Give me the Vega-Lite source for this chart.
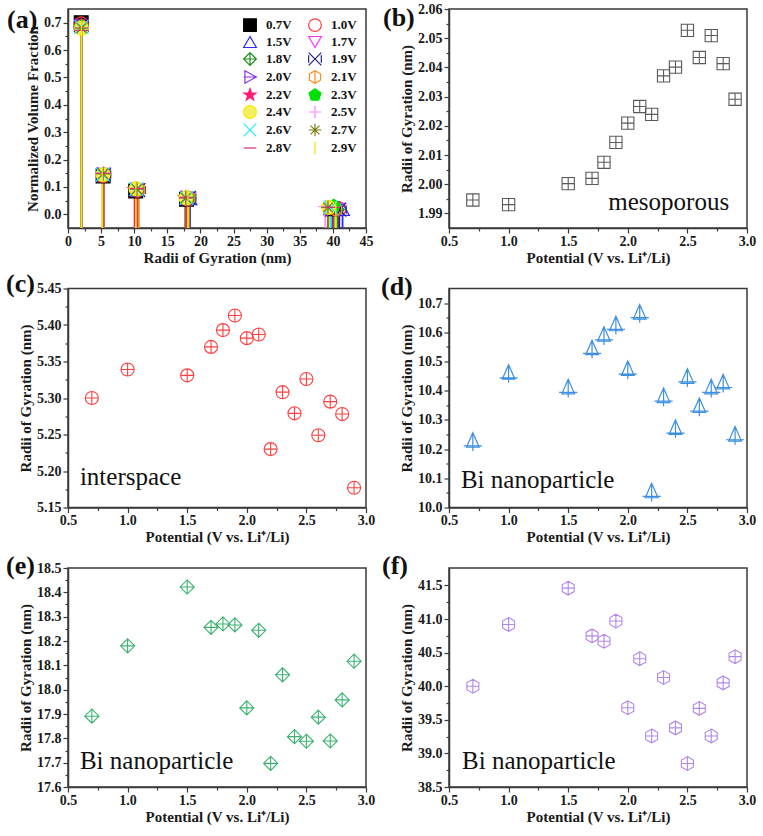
{
  "$schema": "https://vega.github.io/schema/vega-lite/v6.json",
  "padding": {"left": 5, "top": 1, "right": 5, "bottom": 5},
  "background": "white",
  "config": {
    "font": "Liberation Serif",
    "view": {"stroke": "#3a3a3a", "strokeWidth": 1.5},
    "axis": {
      "labelFont": "Liberation Serif", "labelFontWeight": "bold", "labelFontSize": 14, "labelColor": "#1a1a1a",
      "titleFont": "Liberation Serif", "titleFontWeight": "bold", "titleFontSize": 15, "titleColor": "#1a1a1a",
      "domainColor": "#3a3a3a", "domainWidth": 1.5, "tickColor": "#3a3a3a", "tickWidth": 1.2, "tickSize": 5,
      "grid": false, "labelOverlap": false, "labelFlush": false, "labelPadding": 2
    },
    "axisX": {"titlePadding": 2, "labelPadding": 1},
    "axisY": {"titlePadding": 3},
    "title": {"font": "Liberation Serif", "fontSize": 26, "fontWeight": "bold", "anchor": "start", "frame": "group", "baseline": "alphabetic", "offset": 0, "color": "#111111"},
    "legend": {
      "columnPadding": 14, "rowPadding": 0,
      "symbolSize": 160, "symbolStrokeWidth": 1.2, "labelFont": "Liberation Serif", "labelFontWeight": "bold",
      "labelFontSize": 13, "labelColor": "#111111", "labelOffset": 9, "padding": 0
    }
  },
  "datasets": {
    "rg": [
      {"voltage":"0.7V","potential":0.7,"population":"mesoporous","rg":1.9946,"fraction":0.700},
      {"voltage":"0.7V","potential":0.7,"population":"interspace","rg":5.300,"fraction":0.140},
      {"voltage":"0.7V","potential":0.7,"population":"Bi1","rg":10.225,"fraction":0.085},
      {"voltage":"0.7V","potential":0.7,"population":"Bi2","rg":17.891,"fraction":0.055},
      {"voltage":"0.7V","potential":0.7,"population":"Bi3","rg":40.00,"fraction":0.020},
      {"voltage":"1.0V","potential":1.0,"population":"mesoporous","rg":1.9930,"fraction":0.696},
      {"voltage":"1.0V","potential":1.0,"population":"interspace","rg":5.339,"fraction":0.142},
      {"voltage":"1.0V","potential":1.0,"population":"Bi1","rg":10.458,"fraction":0.088},
      {"voltage":"1.0V","potential":1.0,"population":"Bi2","rg":18.180,"fraction":0.055},
      {"voltage":"1.0V","potential":1.0,"population":"Bi3","rg":40.92,"fraction":0.019},
      {"voltage":"1.5V","potential":1.5,"population":"mesoporous","rg":2.0002,"fraction":0.690},
      {"voltage":"1.5V","potential":1.5,"population":"interspace","rg":5.331,"fraction":0.145},
      {"voltage":"1.5V","potential":1.5,"population":"Bi1","rg":10.408,"fraction":0.090},
      {"voltage":"1.5V","potential":1.5,"population":"Bi2","rg":18.422,"fraction":0.057},
      {"voltage":"1.5V","potential":1.5,"population":"Bi3","rg":41.46,"fraction":0.018},
      {"voltage":"1.7V","potential":1.7,"population":"mesoporous","rg":2.0020,"fraction":0.688},
      {"voltage":"1.7V","potential":1.7,"population":"interspace","rg":5.370,"fraction":0.146},
      {"voltage":"1.7V","potential":1.7,"population":"Bi1","rg":10.542,"fraction":0.090},
      {"voltage":"1.7V","potential":1.7,"population":"Bi2","rg":18.256,"fraction":0.058},
      {"voltage":"1.7V","potential":1.7,"population":"Bi3","rg":40.75,"fraction":0.018},
      {"voltage":"1.8V","potential":1.8,"population":"mesoporous","rg":2.0075,"fraction":0.686},
      {"voltage":"1.8V","potential":1.8,"population":"interspace","rg":5.393,"fraction":0.147},
      {"voltage":"1.8V","potential":1.8,"population":"Bi1","rg":10.588,"fraction":0.091},
      {"voltage":"1.8V","potential":1.8,"population":"Bi2","rg":18.270,"fraction":0.058},
      {"voltage":"1.8V","potential":1.8,"population":"Bi3","rg":40.67,"fraction":0.018},
      {"voltage":"1.9V","potential":1.9,"population":"mesoporous","rg":2.0143,"fraction":0.690},
      {"voltage":"1.9V","potential":1.9,"population":"interspace","rg":5.413,"fraction":0.145},
      {"voltage":"1.9V","potential":1.9,"population":"Bi1","rg":10.624,"fraction":0.088},
      {"voltage":"1.9V","potential":1.9,"population":"Bi2","rg":18.266,"fraction":0.060},
      {"voltage":"1.9V","potential":1.9,"population":"Bi3","rg":40.97,"fraction":0.017},
      {"voltage":"2.0V","potential":2.0,"population":"mesoporous","rg":2.0209,"fraction":0.688},
      {"voltage":"2.0V","potential":2.0,"population":"interspace","rg":5.382,"fraction":0.144},
      {"voltage":"2.0V","potential":2.0,"population":"Bi1","rg":10.471,"fraction":0.090},
      {"voltage":"2.0V","potential":2.0,"population":"Bi2","rg":17.925,"fraction":0.060},
      {"voltage":"2.0V","potential":2.0,"population":"Bi3","rg":39.68,"fraction":0.018},
      {"voltage":"2.1V","potential":2.1,"population":"mesoporous","rg":2.0266,"fraction":0.687},
      {"voltage":"2.1V","potential":2.1,"population":"interspace","rg":5.387,"fraction":0.146},
      {"voltage":"2.1V","potential":2.1,"population":"Bi1","rg":10.664,"fraction":0.090},
      {"voltage":"2.1V","potential":2.1,"population":"Bi2","rg":18.244,"fraction":0.059},
      {"voltage":"2.1V","potential":2.1,"population":"Bi3","rg":40.41,"fraction":0.018},
      {"voltage":"2.2V","potential":2.2,"population":"mesoporous","rg":2.0239,"fraction":0.690},
      {"voltage":"2.2V","potential":2.2,"population":"interspace","rg":5.230,"fraction":0.140},
      {"voltage":"2.2V","potential":2.2,"population":"Bi1","rg":10.052,"fraction":0.090},
      {"voltage":"2.2V","potential":2.2,"population":"Bi2","rg":17.697,"fraction":0.060},
      {"voltage":"2.2V","potential":2.2,"population":"Bi3","rg":39.26,"fraction":0.020},
      {"voltage":"2.3V","potential":2.3,"population":"mesoporous","rg":2.0371,"fraction":0.685},
      {"voltage":"2.3V","potential":2.3,"population":"interspace","rg":5.308,"fraction":0.143},
      {"voltage":"2.3V","potential":2.3,"population":"Bi1","rg":10.378,"fraction":0.092},
      {"voltage":"2.3V","potential":2.3,"population":"Bi2","rg":18.061,"fraction":0.060},
      {"voltage":"2.3V","potential":2.3,"population":"Bi3","rg":40.13,"fraction":0.030},
      {"voltage":"2.4V","potential":2.4,"population":"mesoporous","rg":2.0401,"fraction":0.680},
      {"voltage":"2.4V","potential":2.4,"population":"interspace","rg":5.279,"fraction":0.145},
      {"voltage":"2.4V","potential":2.4,"population":"Bi1","rg":10.269,"fraction":0.093},
      {"voltage":"2.4V","potential":2.4,"population":"Bi2","rg":17.807,"fraction":0.060},
      {"voltage":"2.4V","potential":2.4,"population":"Bi3","rg":39.38,"fraction":0.025},
      {"voltage":"2.5V","potential":2.5,"population":"mesoporous","rg":2.0527,"fraction":0.682},
      {"voltage":"2.5V","potential":2.5,"population":"interspace","rg":5.326,"fraction":0.150},
      {"voltage":"2.5V","potential":2.5,"population":"Bi1","rg":10.444,"fraction":0.090},
      {"voltage":"2.5V","potential":2.5,"population":"Bi2","rg":17.788,"fraction":0.058},
      {"voltage":"2.5V","potential":2.5,"population":"Bi3","rg":38.85,"fraction":0.028},
      {"voltage":"2.6V","potential":2.6,"population":"mesoporous","rg":2.0434,"fraction":0.684},
      {"voltage":"2.6V","potential":2.6,"population":"interspace","rg":5.249,"fraction":0.145},
      {"voltage":"2.6V","potential":2.6,"population":"Bi1","rg":10.344,"fraction":0.092},
      {"voltage":"2.6V","potential":2.6,"population":"Bi2","rg":17.887,"fraction":0.060},
      {"voltage":"2.6V","potential":2.6,"population":"Bi3","rg":39.67,"fraction":0.025},
      {"voltage":"2.7V","potential":2.7,"population":"mesoporous","rg":2.0509,"fraction":0.680},
      {"voltage":"2.7V","potential":2.7,"population":"interspace","rg":5.295,"fraction":0.148},
      {"voltage":"2.7V","potential":2.7,"population":"Bi1","rg":10.408,"fraction":0.092},
      {"voltage":"2.7V","potential":2.7,"population":"Bi2","rg":17.789,"fraction":0.060},
      {"voltage":"2.7V","potential":2.7,"population":"Bi3","rg":39.26,"fraction":0.025},
      {"voltage":"2.8V","potential":2.8,"population":"mesoporous","rg":2.0413,"fraction":0.672},
      {"voltage":"2.8V","potential":2.8,"population":"interspace","rg":5.278,"fraction":0.150},
      {"voltage":"2.8V","potential":2.8,"population":"Bi1","rg":10.425,"fraction":0.095},
      {"voltage":"2.8V","potential":2.8,"population":"Bi2","rg":17.958,"fraction":0.062},
      {"voltage":"2.8V","potential":2.8,"population":"Bi3","rg":40.05,"fraction":0.025},
      {"voltage":"2.9V","potential":2.9,"population":"mesoporous","rg":2.0291,"fraction":0.680},
      {"voltage":"2.9V","potential":2.9,"population":"interspace","rg":5.177,"fraction":0.148},
      {"voltage":"2.9V","potential":2.9,"population":"Bi1","rg":10.246,"fraction":0.094},
      {"voltage":"2.9V","potential":2.9,"population":"Bi2","rg":18.117,"fraction":0.060},
      {"voltage":"2.9V","potential":2.9,"population":"Bi3","rg":40.44,"fraction":0.022}
    ]
  },
  "columns": 2,
  "spacing": {"row": 60.5, "column": 83},
  "bounds": "flush",
  "concat": [
    {
      "width": 298, "height": 219,
      "title": {"text": "(a)", "dx": -61, "dy": 28},
      "data": {"name": "rg"},
      "layer": [
        {
          "mark": {"type": "rule", "strokeWidth": 1.8},
          "encoding": {
            "x": {"field": "rg", "type": "quantitative", "title": "Radii of Gyration (nm)",
              "scale": {"domain": [0, 45], "nice": false, "zero": false},
              "axis": {"labelOverlap": false, "tickCount": 100, "values": [0,2.5,5,7.5,10,12.5,15,17.5,20,22.5,25,27.5,30,32.5,35,37.5,40,42.5,45],
                "labelExpr": "abs(datum.value/5-round(datum.value/5))<0.001 ? format(datum.value,'d') : ''",
                "tickDash": {"condition": {"test": "abs(datum.value/5-round(datum.value/5))<0.001", "value": [6, 0]}, "value": [3, 20]}}},
            "y": {"field": "fraction", "type": "quantitative", "title": "Normalized Volume Fraction",
              "scale": {"domain": [-0.05, 0.75], "nice": false, "zero": false},
              "axis": {"labelOverlap": false, "tickCount": 100, "values": [0,0.05,0.1,0.15,0.2,0.25,0.3,0.35,0.4,0.45,0.5,0.55,0.6,0.65,0.7],
                "labelExpr": "abs(datum.value*10-round(datum.value*10))<0.001 ? format(datum.value,'.1f') : ''",
                "tickDash": {"condition": {"test": "abs(datum.value*10-round(datum.value*10))<0.001", "value": [6, 0]}, "value": [3, 20]}}},
            "y2": {"datum": -0.05},
            "color": {"field": "voltage", "type": "nominal", "title": null, "legend": null,
              "scale": {"range": ["#000000","#ff3b3b","#2b2bff","#ff33ff","#1f8f1f","#22227f","#8833ee","#ff8c1a","#ff1a75","#00e000","#f0ea00","#ff88ff","#22e8ff","#7a7a10","#cc3377","#f2e600"]}}
          }
        },
        {
          "mark": {"type": "point", "size": 190, "strokeWidth": 1.2, "opacity": 1},
          "encoding": {
            "x": {"field": "rg", "type": "quantitative"},
            "y": {"field": "fraction", "type": "quantitative"},
            "stroke": {"field": "voltage", "type": "nominal", "title": null,
              "legend": {"orient": "none", "legendX": 175, "legendY": 9, "direction": "horizontal", "columns": 2},
              "scale": {"domain": ["0.7V","1.0V","1.5V","1.7V","1.8V","1.9V","2.0V","2.1V","2.2V","2.3V","2.4V","2.5V","2.6V","2.7V","2.8V","2.9V"],
                "range": ["#000000","#ff3b3b","#2b2bff","#ff33ff","#1f8f1f","#22227f","#8833ee","#ff8c1a","#ff1a75","#00e000","#f0ea00","#ff88ff","#22e8ff","#7a7a10","#cc3377","#f2e600"]}},
            "fill": {"field": "voltage", "type": "nominal", "title": null,
              "legend": {"orient": "none", "legendX": 175, "legendY": 9, "direction": "horizontal", "columns": 2},
              "scale": {"domain": ["0.7V","1.0V","1.5V","1.7V","1.8V","1.9V","2.0V","2.1V","2.2V","2.3V","2.4V","2.5V","2.6V","2.7V","2.8V","2.9V"],
                "range": ["#000000","transparent","transparent","transparent","transparent","transparent","transparent","transparent","#ff1a75","#00e000","#f5f060","transparent","transparent","transparent","transparent","transparent"]}},
            "shape": {"field": "voltage", "type": "nominal", "title": null,
              "legend": {"orient": "none", "legendX": 175, "legendY": 9, "direction": "horizontal", "columns": 2},
              "scale": {"domain": ["0.7V","1.0V","1.5V","1.7V","1.8V","1.9V","2.0V","2.1V","2.2V","2.3V","2.4V","2.5V","2.6V","2.7V","2.8V","2.9V"],
                "range": ["square","circle","triangle-up","triangle-down",
                  "M0,-1L1,0L0,1L-1,0Z M0,-1L0,1 M-1,0L1,0",
                  "M-1,-1L1,1 M-1,1L1,-1 M-1,-0.6L-1,0.6 M1,-0.6L1,0.6",
                  "M-0.8,-1L1,0L-0.8,1Z M-1,0L1,0",
                  "M0,-1L0.87,-0.5L0.87,0.5L0,1L-0.87,0.5L-0.87,-0.5Z M0,-1L0,1",
                  "M0,-1L0.24,-0.32L0.95,-0.31L0.38,0.12L0.59,0.81L0,0.4L-0.59,0.81L-0.38,0.12L-0.95,-0.31L-0.24,-0.32Z",
                  "M0,-1L0.95,-0.31L0.59,0.81L-0.59,0.81L-0.95,-0.31Z",
                  "circle",
                  "M-1,0L1,0 M0,-1L0,1",
                  "M-1,-1L1,1 M-1,1L1,-1",
                  "M-1,0L1,0 M0,-1L0,1 M-0.7,-0.7L0.7,0.7 M-0.7,0.7L0.7,-0.7",
                  "M-1,0L1,0",
                  "M0,-1L0,1"]}}
          }
        }
      ]
    },
    {
      "width": 298, "height": 219,
      "title": {"text": "(b)", "dx": -66, "dy": 33},
      "layer": [
        {
          "data": {"name": "rg"},
          "transform": [{"filter": "datum.population == 'mesoporous'"}],
          "mark": {"type": "point", "shape": "M-1,-1L1,-1L1,1L-1,1Z M0,-1L0,1 M-1,0L1,0", "size": 150, "color": "#5a5a5a", "strokeWidth": 1.1, "filled": false, "opacity": 1},
          "encoding": {
            "x": {"field": "potential", "type": "quantitative", "title": "Potential (V vs. Li⁺/Li)",
              "scale": {"domain": [0.5, 3.0], "nice": false, "zero": false},
              "axis": {"labelOverlap": false, "tickCount": 100, "values": [0.5,0.75,1,1.25,1.5,1.75,2,2.25,2.5,2.75,3],
                "labelExpr": "abs(datum.value*2-round(datum.value*2))<0.001 ? format(datum.value,'.1f') : ''",
                "tickDash": {"condition": {"test": "abs(datum.value*2-round(datum.value*2))<0.001", "value": [6, 0]}, "value": [3, 20]}}},
            "y": {"field": "rg", "type": "quantitative", "title": "Radii of Gyration (nm)",
              "scale": {"domain": [1.985, 2.06], "nice": false, "zero": false},
              "axis": {"labelOverlap": false, "tickCount": 100, "values": [1.99,1.995,2,2.005,2.01,2.015,2.02,2.025,2.03,2.035,2.04,2.045,2.05,2.055,2.06],
                "labelExpr": "abs(datum.value*100-round(datum.value*100))<0.01 ? format(datum.value,'.2f') : ''",
                "tickDash": {"condition": {"test": "abs(datum.value*100-round(datum.value*100))<0.01", "value": [6, 0]}, "value": [3, 20]}}}
          }
        },
        {
          "data": {"values": [{"label": "mesoporous"}]},
          "mark": {"type": "text", "font": "Liberation Serif", "fontSize": 25, "align": "right", "baseline": "alphabetic", "color": "#111111"},
          "encoding": {"x": {"datum": 2.85, "type": "quantitative"}, "y": {"datum": 1.9912, "type": "quantitative"}, "text": {"field": "label"}}
        }
      ]
    },
    {
      "width": 298, "height": 219,
      "title": {"text": "(c)", "dx": -62, "dy": 19},
      "layer": [
        {
          "data": {"name": "rg"},
          "transform": [{"filter": "datum.population == 'interspace'"}],
          "mark": {"type": "point", "shape": "M1,0A1,1,0,1,1,-1,0A1,1,0,1,1,1,0Z M0,-1L0,1 M-1,0L1,0", "size": 170, "color": "#ff4040", "strokeWidth": 1.1, "filled": false, "opacity": 1},
          "encoding": {
            "x": {"field": "potential", "type": "quantitative", "title": "Potential (V vs. Li⁺/Li)",
              "scale": {"domain": [0.5, 3.0], "nice": false, "zero": false},
              "axis": {"labelOverlap": false, "tickCount": 100, "values": [0.5,0.75,1,1.25,1.5,1.75,2,2.25,2.5,2.75,3],
                "labelExpr": "abs(datum.value*2-round(datum.value*2))<0.001 ? format(datum.value,'.1f') : ''",
                "tickDash": {"condition": {"test": "abs(datum.value*2-round(datum.value*2))<0.001", "value": [6, 0]}, "value": [3, 20]}}},
            "y": {"field": "rg", "type": "quantitative", "title": "Radii of Gyration (nm)",
              "scale": {"domain": [5.15, 5.45], "nice": false, "zero": false},
              "axis": {"labelOverlap": false, "tickCount": 100, "values": [5.15,5.175,5.2,5.225,5.25,5.275,5.3,5.325,5.35,5.375,5.4,5.425,5.45],
                "labelExpr": "abs(datum.value*20-round(datum.value*20))<0.01 ? format(datum.value,'.2f') : ''",
                "tickDash": {"condition": {"test": "abs(datum.value*20-round(datum.value*20))<0.01", "value": [6, 0]}, "value": [3, 20]}}}
          }
        },
        {
          "data": {"values": [{"label": "interspace"}]},
          "mark": {"type": "text", "font": "Liberation Serif", "fontSize": 25, "align": "left", "baseline": "alphabetic", "color": "#111111"},
          "encoding": {"x": {"datum": 0.6, "type": "quantitative"}, "y": {"datum": 5.1815, "type": "quantitative"}, "text": {"field": "label"}}
        }
      ]
    },
    {
      "width": 298, "height": 219,
      "title": {"text": "(d)", "dx": -68, "dy": 15},
      "layer": [
        {
          "data": {"name": "rg"},
          "transform": [{"filter": "datum.population == 'Bi1'"}],
          "mark": {"type": "point", "shape": "M0,-1L0.7,0.6L-0.7,0.6Z M-1,0.45L1,0.45 M0,-1L0,1", "size": 330, "color": "#3d8fe0", "strokeWidth": 1.2, "filled": false, "opacity": 1},
          "encoding": {
            "x": {"field": "potential", "type": "quantitative", "title": "Potential (V vs. Li⁺/Li)",
              "scale": {"domain": [0.5, 3.0], "nice": false, "zero": false},
              "axis": {"labelOverlap": false, "tickCount": 100, "values": [0.5,0.75,1,1.25,1.5,1.75,2,2.25,2.5,2.75,3],
                "labelExpr": "abs(datum.value*2-round(datum.value*2))<0.001 ? format(datum.value,'.1f') : ''",
                "tickDash": {"condition": {"test": "abs(datum.value*2-round(datum.value*2))<0.001", "value": [6, 0]}, "value": [3, 20]}}},
            "y": {"field": "rg", "type": "quantitative", "title": "Radii of Gyration (nm)",
              "scale": {"domain": [10.0, 10.75], "nice": false, "zero": false},
              "axis": {"labelOverlap": false, "tickCount": 100, "values": [10,10.05,10.1,10.15,10.2,10.25,10.3,10.35,10.4,10.45,10.5,10.55,10.6,10.65,10.7],
                "labelExpr": "abs(datum.value*10-round(datum.value*10))<0.01 ? format(datum.value,'.1f') : ''",
                "tickDash": {"condition": {"test": "abs(datum.value*10-round(datum.value*10))<0.01", "value": [6, 0]}, "value": [3, 20]}}}
          }
        },
        {
          "data": {"values": [{"label": "Bi nanoparticle"}]},
          "mark": {"type": "text", "font": "Liberation Serif", "fontSize": 25, "align": "left", "baseline": "alphabetic", "color": "#111111"},
          "encoding": {"x": {"datum": 0.6, "type": "quantitative"}, "y": {"datum": 10.068, "type": "quantitative"}, "text": {"field": "label"}}
        }
      ]
    },
    {
      "width": 298, "height": 219,
      "title": {"text": "(e)", "dx": -62, "dy": 22},
      "layer": [
        {
          "data": {"name": "rg"},
          "transform": [{"filter": "datum.population == 'Bi2'"}],
          "mark": {"type": "point", "shape": "M0,-1L1,0L0,1L-1,0Z M0,-1L0,1 M-1,0L1,0", "size": 200, "color": "#3cb371", "strokeWidth": 1.1, "filled": false, "opacity": 1},
          "encoding": {
            "x": {"field": "potential", "type": "quantitative", "title": "Potential (V vs. Li⁺/Li)",
              "scale": {"domain": [0.5, 3.0], "nice": false, "zero": false},
              "axis": {"labelOverlap": false, "tickCount": 100, "values": [0.5,0.75,1,1.25,1.5,1.75,2,2.25,2.5,2.75,3],
                "labelExpr": "abs(datum.value*2-round(datum.value*2))<0.001 ? format(datum.value,'.1f') : ''",
                "tickDash": {"condition": {"test": "abs(datum.value*2-round(datum.value*2))<0.001", "value": [6, 0]}, "value": [3, 20]}}},
            "y": {"field": "rg", "type": "quantitative", "title": "Radii of Gyration (nm)",
              "scale": {"domain": [17.6, 18.5], "nice": false, "zero": false},
              "axis": {"labelOverlap": false, "tickCount": 100, "values": [17.6,17.65,17.7,17.75,17.8,17.85,17.9,17.95,18,18.05,18.1,18.15,18.2,18.25,18.3,18.35,18.4,18.45,18.5],
                "labelExpr": "abs(datum.value*10-round(datum.value*10))<0.01 ? format(datum.value,'.1f') : ''",
                "tickDash": {"condition": {"test": "abs(datum.value*10-round(datum.value*10))<0.01", "value": [6, 0]}, "value": [3, 20]}}}
          }
        },
        {
          "data": {"values": [{"label": "Bi nanoparticle"}]},
          "mark": {"type": "text", "font": "Liberation Serif", "fontSize": 25, "align": "left", "baseline": "alphabetic", "color": "#111111"},
          "encoding": {"x": {"datum": 0.6, "type": "quantitative"}, "y": {"datum": 17.674, "type": "quantitative"}, "text": {"field": "label"}}
        }
      ]
    },
    {
      "width": 298, "height": 219,
      "title": {"text": "(f)", "dx": -67, "dy": 15},
      "layer": [
        {
          "data": {"name": "rg"},
          "transform": [{"filter": "datum.population == 'Bi3'"}],
          "mark": {"type": "point", "shape": "M0,-1L0.87,-0.5L0.87,0.5L0,1L-0.87,0.5L-0.87,-0.5Z M0,-1L0,1 M-0.87,0L0.87,0", "size": 190, "color": "#b088ea", "strokeWidth": 1.1, "filled": false, "opacity": 1},
          "encoding": {
            "x": {"field": "potential", "type": "quantitative", "title": "Potential (V vs. Li⁺/Li)",
              "scale": {"domain": [0.5, 3.0], "nice": false, "zero": false},
              "axis": {"labelOverlap": false, "tickCount": 100, "values": [0.5,0.75,1,1.25,1.5,1.75,2,2.25,2.5,2.75,3],
                "labelExpr": "abs(datum.value*2-round(datum.value*2))<0.001 ? format(datum.value,'.1f') : ''",
                "tickDash": {"condition": {"test": "abs(datum.value*2-round(datum.value*2))<0.001", "value": [6, 0]}, "value": [3, 20]}}},
            "y": {"field": "rg", "type": "quantitative", "title": "Radii of Gyration (nm)",
              "scale": {"domain": [38.5, 41.76], "nice": false, "zero": false},
              "axis": {"labelOverlap": false, "tickCount": 100, "values": [38.5,38.75,39,39.25,39.5,39.75,40,40.25,40.5,40.75,41,41.25,41.5],
                "labelExpr": "abs(datum.value*2-round(datum.value*2))<0.01 ? format(datum.value,'.1f') : ''",
                "tickDash": {"condition": {"test": "abs(datum.value*2-round(datum.value*2))<0.01", "value": [6, 0]}, "value": [3, 20]}}}
          }
        },
        {
          "data": {"values": [{"label": "Bi nanoparticle"}]},
          "mark": {"type": "text", "font": "Liberation Serif", "fontSize": 25, "align": "left", "baseline": "alphabetic", "color": "#111111"},
          "encoding": {"x": {"datum": 0.61, "type": "quantitative"}, "y": {"datum": 38.768, "type": "quantitative"}, "text": {"field": "label"}}
        }
      ]
    }
  ]
}
